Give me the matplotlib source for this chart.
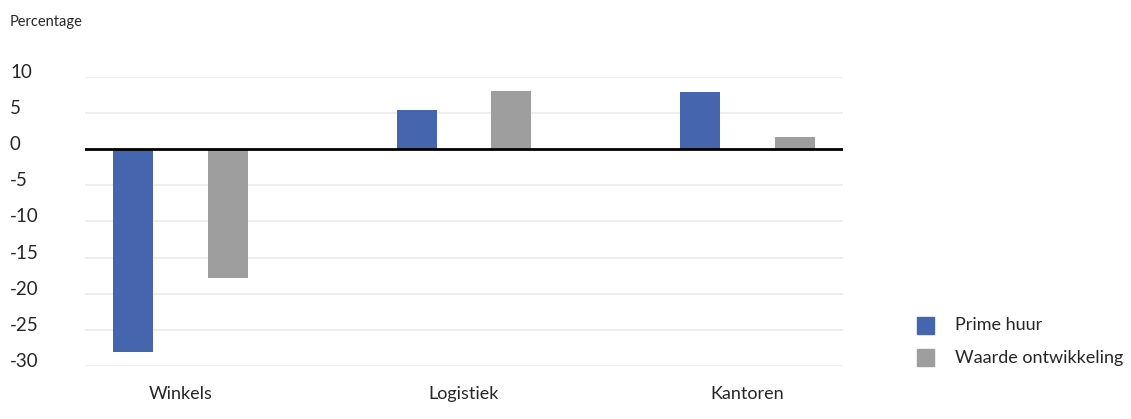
import matplotlib
matplotlib.use("Agg")
import matplotlib.pyplot as plt
from matplotlib.patches import Rectangle
import numpy as np

plt.rcParams['font.family'] = ['Lato', 'DejaVu Sans']

categories = ["Winkels", "Logistiek", "Kantoren"]
prime_huur = [-28.0, 5.4, 7.9]
waarde_ontwikkeling = [-17.8, 8.1, 1.7]
series_names = ["Prime huur", "Waarde ontwikkeling"]
yticks = [10, 5, 0, -5, -10, -15, -20, -25, -30]

blue = "#4566ae"
grey = "#9e9e9e"
text_col = "#262626"

W, H = 1131, 419
fig = plt.figure(figsize=(W / 100, H / 100), dpi=100)
ax = fig.add_axes([85 / W, 1 - 366 / H, (843 - 85) / W, (366 - 77) / H])

x = np.arange(len(categories))
bw = 0.141
off = 0.1675
ax.bar(x - off, prime_huur, bw, color=blue, zorder=3)
ax.bar(x + off, waarde_ontwikkeling, bw, color=grey, zorder=3)

ax.set_xlim(-0.337, 2.337)
ax.set_ylim(-30, 10)
for t in yticks:
    if t != 0:
        ax.axhline(t, color="#ebebeb", lw=1.2, zorder=1)
ax.axhline(0, color="black", lw=2, zorder=4)

for s in ax.spines.values():
    s.set_visible(False)
ax.set_yticks(yticks)
ax.set_yticklabels([])
ax.tick_params(left=False, bottom=False)
ax.set_xticks(x)
ax.set_xticklabels(categories, fontsize=13, color=text_col)
ax.tick_params(axis="x", pad=11)

# y tick labels, left aligned at the figure edge, sitting on their gridline
for t in yticks:
    yp = ax.transData.transform((0, t))[1]
    fig.text(10 / W, (yp - 1) / H, str(t), ha="left", va="baseline",
             fontsize=13.5, color=text_col)

fig.text(10 / W, 1 - 22 / H, "Percentage", ha="left", va="center",
         fontsize=10.5, color=text_col)

# legend
for i, (name, col) in enumerate(zip(series_names, [blue, grey])):
    yc = 325.5 + i * 32
    fig.patches.append(Rectangle((917 / W, 1 - (yc + 8.5) / H), 17 / W, 17 / H,
                                 transform=fig.transFigure, color=col))
    fig.text(955 / W, 1 - yc / H, name, ha="left", va="center",
             fontsize=13, color=text_col)

fig.savefig("out.png", dpi=100)
